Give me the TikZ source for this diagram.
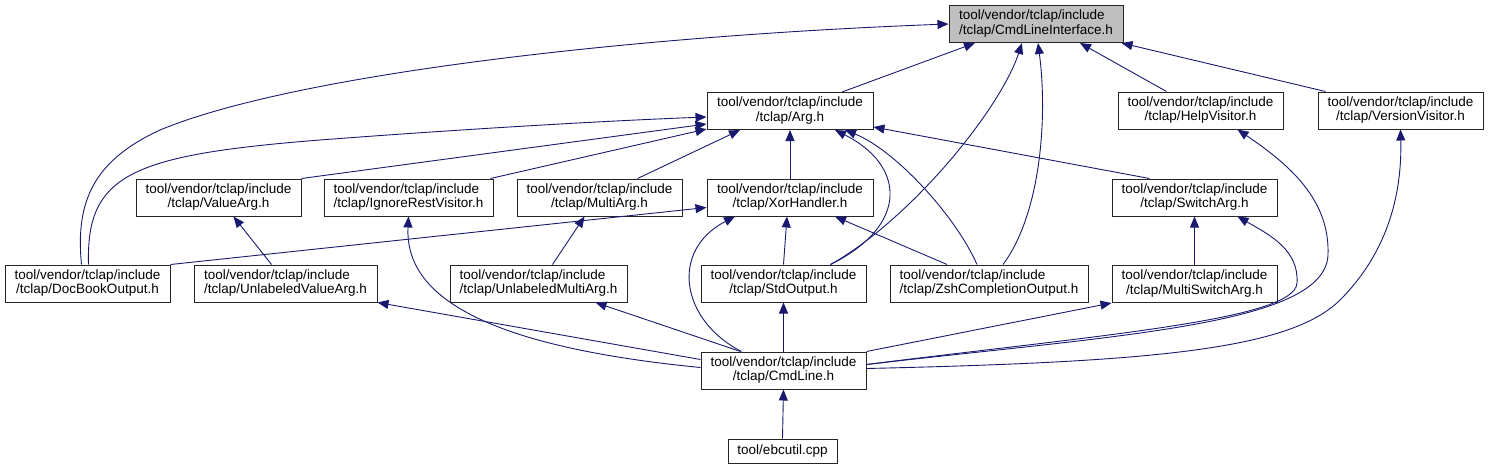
\documentclass[tikz,border=0pt]{standalone}
\usepackage{fontspec}
\setmainfont{Liberation Sans}
\usetikzlibrary{arrows.meta}
\definecolor{edgeblue}{HTML}{191970}
\definecolor{rootgray}{HTML}{BFBFBF}
\newcommand{\tclapfile}[1]{\begin{tabular}{@{}l@{}}tool/vendor/tclap/include\\\hfill/tclap/#1\hfill\null\end{tabular}}

\begin{document}
\begin{tikzpicture}[x=1pt,y=-1pt,line width=1pt,
  file/.style={draw=black!85,fill=white,rectangle,inner sep=2pt,minimum height=37pt,font=\fontsize{13.5}{14.5}\selectfont},
  dep/.style={draw=edgeblue,line width=0.9pt,-{Triangle[length=11pt,width=9pt]}}]
\path[use as bounding box] (0,0) rectangle (1489,469);
% files, top row first
\node[file,fill=rootgray,minimum width=174pt] (cli) at (1036,24) {\tclapfile{CmdLineInterface.h}};
\node[file,minimum width=166pt] (arg) at (790,111) {\tclapfile{Arg.h}};
\node[file,minimum width=165pt] (helpv) at (1200.5,110.5) {\tclapfile{HelpVisitor.h}};
\node[file,minimum width=165pt] (versionv) at (1400.5,110.5) {\tclapfile{VersionVisitor.h}};
\node[file,minimum width=165pt] (valuearg) at (218.5,197.5) {\tclapfile{ValueArg.h}};
\node[file,minimum width=169pt] (ignorev) at (408.5,197.5) {\tclapfile{IgnoreRestVisitor.h}};
\node[file,minimum width=165pt] (multiarg) at (599.5,197.5) {\tclapfile{MultiArg.h}};
\node[file,minimum width=166pt] (xorh) at (790,197.5) {\tclapfile{XorHandler.h}};
\node[file,minimum width=165pt] (switcharg) at (1194.5,197.5) {\tclapfile{SwitchArg.h}};
\node[file,minimum width=165pt] (docbook) at (87.5,283.5) {\tclapfile{DocBookOutput.h}};
\node[file,minimum width=183pt] (uvalue) at (285.5,283.5) {\tclapfile{UnlabeledValueArg.h}};
\node[file,minimum width=177pt] (umulti) at (538.5,283.5) {\tclapfile{UnlabeledMultiArg.h}};
\node[file,minimum width=165pt] (stdout) at (783.5,283.5) {\tclapfile{StdOutput.h}};
\node[file,minimum width=198pt] (zsh) at (989,283.5) {\tclapfile{ZshCompletionOutput.h}};
\node[file,minimum width=165pt] (mswitch) at (1194.5,284) {\tclapfile{MultiSwitchArg.h}};
\node[file,minimum width=165pt] (cmdline) at (783.5,370.5) {\tclapfile{CmdLine.h}};
\node[file,minimum width=109pt,minimum height=24pt] (ebcutil) at (782.5,451) {tool/ebcutil.cpp};
% includes of CmdLineInterface.h
\draw[dep] ([xshift=52]arg.north) -- ([xshift=-61]cli.south);
\draw[dep] ([xshift=-6]docbook.north) .. controls (75,200) and (95,160) .. (160,130) .. controls (300,72) and (650,35) .. (cli.west);
\draw[dep] ([xshift=47]stdout.north) .. controls (910,220) and (1000,110) .. ([xshift=-14]cli.south);
\draw[dep] ([xshift=14]zsh.north) .. controls (1040,215) and (1048,120) .. ([xshift=2]cli.south);
\draw[dep] ([xshift=-34]helpv.north) -- ([xshift=44]cli.south);
\draw[dep] ([xshift=-75]versionv.north) -- ([xshift=-2]cli.south east);
% includes of Arg.h
\draw[dep] ([xshift=1]docbook.north) .. controls (86,175) and (130,155) .. (320,140) .. controls (450,130) and (600,121) .. ([yshift=-6]arg.west);
\draw[dep] (valuearg.north east) -- ([yshift=-13]arg.west);
\draw[dep] ([xshift=-3]ignorev.north east) -- ([yshift=-18]arg.west);
\draw[dep] ([xshift=38]multiarg.north) -- ([xshift=-50]arg.south);
\draw[dep] (xorh.north) -- (arg.south);
\draw[dep] ([xshift=-45]switcharg.north) -- ([yshift=-16]arg.east);
\draw[dep] ([xshift=47]stdout.north) .. controls (910,225) and (905,165) .. ([xshift=45]arg.south);
\draw[dep] ([xshift=-12]zsh.north) .. controls (955,215) and (895,150) .. ([xshift=55]arg.south);
% includes of XorHandler.h
\draw[dep] (docbook.north east) -- ([yshift=-10]xorh.west);
\draw[dep] (stdout.north) -- ([xshift=-3]xorh.south);
\draw[dep] ([xshift=-42]zsh.north) -- ([xshift=45]xorh.south);
\draw[dep] ([xshift=-42]cmdline.north) .. controls (680,320) and (670,250) .. ([xshift=-55]xorh.south);
% second level
\draw[dep] ([xshift=-14]uvalue.north) -- ([xshift=15]valuearg.south);
\draw[dep] ([xshift=14]umulti.north) -- ([xshift=-15]multiarg.south);
\draw[dep] (mswitch.north) -- (switcharg.south);
% includes from CmdLine.h
\draw[dep] ([yshift=11]cmdline.west) -- (uvalue.south east);
\draw[dep] ([yshift=3]cmdline.west) .. controls (470,345) and (405,290) .. (ignorev.south);
\draw[dep] ([xshift=-43]cmdline.north) -- ([xshift=-32]umulti.south east);
\draw[dep] (cmdline.north) -- (stdout.south);
\draw[dep] (cmdline.north east) -- (mswitch.south west);
\draw[dep] ([yshift=6]cmdline.east) .. controls (1100,335) and (1295,320) .. (1297,283) .. controls (1299,250) and (1270,235) .. ([xshift=43]switcharg.south);
\draw[dep] ([yshift=6]cmdline.east) .. controls (1120,335) and (1325,325) .. (1328,255) .. controls (1330,200) and (1290,165) .. ([xshift=37]helpv.south);
\draw[dep] ([yshift=2]cmdline.east) .. controls (1150,362) and (1290,350) .. (1340,300) .. controls (1390,250) and (1402,190) .. (versionv.south);
\draw[dep] (ebcutil.north) -- (cmdline.south);
\end{tikzpicture}
\end{document}
